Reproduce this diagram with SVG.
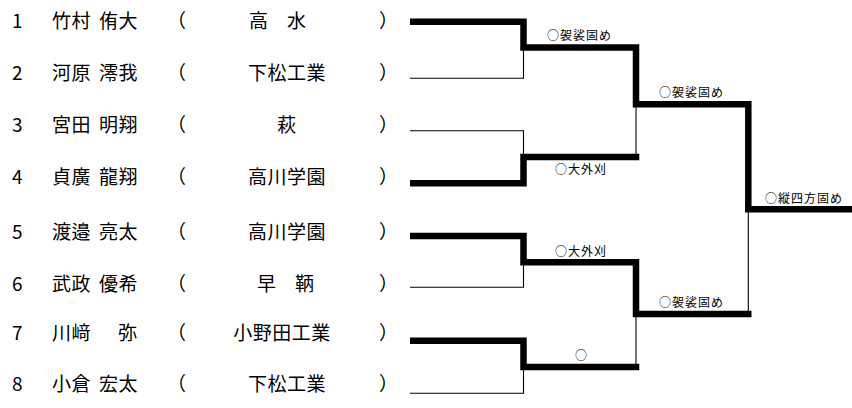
<svg xmlns="http://www.w3.org/2000/svg" width="852" height="408" viewBox="0 0 852 408">
<style>
.t{font-family:"Noto Sans CJK JP","Noto Sans CJK SC",sans-serif;font-size:19px;fill:#000;letter-spacing:0.5px}
.n{font-family:"Noto Sans CJK JP",sans-serif;font-size:19px;fill:#000}
.s{text-anchor:middle}
.l{font-family:"Noto Sans CJK JP",sans-serif;font-size:12px;fill:#000;letter-spacing:1px}
.thick{fill:none;stroke:#000;stroke-width:6.5;stroke-linejoin:miter}
.thin{fill:none;stroke:#000;stroke-width:1.1}
</style>
<rect width="852" height="408" fill="#fff"/>
<g id="p1"><text class="n" x="12" y="28">1</text><text class="t" x="52" y="28">竹村</text><text class="t" x="99" y="28">侑大</text><text class="t" x="167" y="28">（</text><text class="t" x="249" y="28">高</text><text class="t" x="287" y="28">水</text><text class="t" x="379" y="28">）</text></g>
<g id="p2"><text class="n" x="12" y="80">2</text><text class="t" x="52" y="80">河原</text><text class="t" x="99" y="80">澪我</text><text class="t" x="167" y="80">（</text><text class="t s" x="287" y="80">下松工業</text><text class="t" x="379" y="80">）</text></g>
<g id="p3"><text class="n" x="12" y="132">3</text><text class="t" x="52" y="132">宮田</text><text class="t" x="99" y="132">明翔</text><text class="t" x="167" y="132">（</text><text class="t s" x="287" y="132">萩</text><text class="t" x="379" y="132">）</text></g>
<g id="p4"><text class="n" x="12" y="184">4</text><text class="t" x="52" y="184">貞廣</text><text class="t" x="99" y="184">龍翔</text><text class="t" x="167" y="184">（</text><text class="t s" x="287" y="184">高川学園</text><text class="t" x="379" y="184">）</text></g>
<g id="p5"><text class="n" x="12" y="239">5</text><text class="t" x="52" y="239">渡邉</text><text class="t" x="99" y="239">亮太</text><text class="t" x="167" y="239">（</text><text class="t s" x="287" y="239">高川学園</text><text class="t" x="379" y="239">）</text></g>
<g id="p6"><text class="n" x="12" y="291">6</text><text class="t" x="52" y="291">武政</text><text class="t" x="99" y="291">優希</text><text class="t" x="167" y="291">（</text><text class="t" x="257" y="291">早</text><text class="t" x="295" y="291">鞆</text><text class="t" x="379" y="291">）</text></g>
<g id="p7"><text class="n" x="12" y="340">7</text><text class="t" x="52" y="340">川﨑</text><text class="t" x="118" y="340">弥</text><text class="t" x="167" y="340">（</text><text class="t s" x="282" y="340">小野田工業</text><text class="t" x="379" y="340">）</text></g>
<g id="p8"><text class="n" x="12" y="391">8</text><text class="t" x="52" y="391">小倉</text><text class="t" x="99" y="391">宏太</text><text class="t" x="167" y="391">（</text><text class="t s" x="287" y="391">下松工業</text><text class="t" x="379" y="391">）</text></g>
<g id="connectors">
<path class="thin" d="M410,78.3H523.5V47.5"/>
<path class="thin" d="M410,130.7H523.5V157"/>
<path class="thin" d="M410,287.3H523.5V262.2"/>
<path class="thin" d="M410,393.3H523.5V367"/>
<path class="thin" d="M636,157V104.3"/>
<path class="thin" d="M636,367V314"/>
<path class="thin" d="M748.3,314V209.3"/>
<path class="thick" d="M410,21.7H523.5V47.5H636V104.3H748.3V209.3H852"/>
<path class="thick" d="M410,183.3H523.5V157H639.3"/>
<path class="thick" d="M410,236H523.5V262.2H636V314H751.5"/>
<path class="thick" d="M410,340.7H523.5V367H639.3"/>
</g>
<g id="labels">
<text class="l" x="547" y="39.5">○袈裟固め</text>
<text class="l" x="555" y="173.5">○大外刈</text>
<text class="l" x="659" y="97">○袈裟固め</text>
<text class="l" x="555" y="255.5">○大外刈</text>
<text class="l" x="575" y="359.5">○</text>
<text class="l" x="659" y="307">○袈裟固め</text>
<text class="l" x="765" y="202.5">○縦四方固め</text>
</g>
</svg>
